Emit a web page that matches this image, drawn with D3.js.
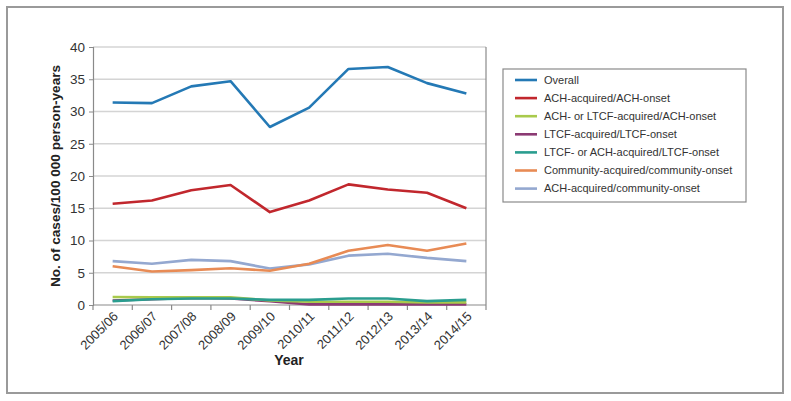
<!DOCTYPE html>
<html><head><meta charset="utf-8">
<script src="https://cdn.jsdelivr.net/npm/d3@7"></script>
<style>body{margin:0;background:#fff}</style>
</head><body><svg id="c" width="791" height="401" font-family="Liberation Sans, Arial, sans-serif"></svg>
<script>
const years = ["2005/06","2006/07","2007/08","2008/09","2009/10","2010/11","2011/12","2012/13","2013/14","2014/15"];
const seriesNames = ["Overall","ACH-acquired/ACH-onset","ACH- or LTCF-acquired/ACH-onset","LTCF-acquired/LTCF-onset","LTCF- or ACH-acquired/LTCF-onset","Community-acquired/community-onset","ACH-acquired/community-onset"];
const seriesColors = ["#2479b5","#c1272d","#a9ca4c","#8b3a73","#2a9d8f","#e88b55","#94a8d0"];
const overall = [31.4,31.3,33.9,34.7,27.6,30.6,36.6,36.9,34.4,32.8];
const achAch = [15.7,16.2,17.8,18.6,14.4,16.2,18.7,17.9,17.4,15.0];
const achLtcfAch = [1.25,1.2,1.2,1.2,0.7,0.5,0.5,0.5,0.4,0.4];
const ltcfLtcf = [0.7,0.9,1.1,1.0,0.6,0.1,0.1,0.1,0.1,0.1];
const ltcfAchLtcf = [0.6,0.9,1.0,1.0,0.8,0.8,1.0,1.0,0.6,0.8];
const community = [6.0,5.2,5.4,5.7,5.3,6.4,8.4,9.3,8.4,9.55];
const achCommunity = [6.8,6.4,7.0,6.8,5.65,6.3,7.65,7.95,7.3,6.8];
const yTicks = [0,5,10,15,20,25,30,35,40];

const data = [overall,achAch,achLtcfAch,ltcfLtcf,ltcfAchLtcf,community,achCommunity];
const drawOrder = [6,5,3,2,4,1,0];
const FF = "Liberation Sans, Arial, sans-serif";

const svg = d3.select("#c");
svg.append("rect").attr("x",7).attr("y",7).attr("width",776).attr("height",386)
  .attr("fill","none").attr("stroke","#9a9a9a").attr("stroke-width",2);

const L=93,R=486,T=47,B=305;
const x = d3.scaleBand().domain(years).range([L,R]);
const y = d3.scaleLinear().domain([0,40]).range([B,T]);

const g = svg.append("g");
g.selectAll("line.grid").data(yTicks.filter(d=>d>0)).join("line")
  .attr("x1",L).attr("x2",R).attr("y1",d=>y(d)).attr("y2",d=>y(d))
  .attr("stroke","#d4d4d4").attr("stroke-width",1.5);
g.append("line").attr("x1",R).attr("x2",R).attr("y1",T).attr("y2",B).attr("stroke","#8a8a8a").attr("stroke-width",1.2);

const yAxis = g.append("g").attr("transform",`translate(${L},0)`)
  .call(d3.axisLeft(y).tickValues(yTicks).tickSize(4).tickPadding(4));
yAxis.attr("font-family",FF);
yAxis.select(".domain").attr("stroke","#8a8a8a").attr("stroke-width",1.2);
yAxis.selectAll(".tick line").attr("stroke","#8a8a8a");
yAxis.selectAll("text").attr("font-size",13.5).attr("fill","#333");

const bounds = years.map(d=>x(d)).concat([R]);
g.selectAll("line.xt").data(bounds).join("line")
  .attr("x1",d=>d).attr("x2",d=>d).attr("y1",B).attr("y2",B+5).attr("stroke","#8a8a8a").attr("stroke-width",1.2);
g.append("line").attr("x1",L).attr("x2",R).attr("y1",B).attr("y2",B).attr("stroke","#8a8a8a").attr("stroke-width",1.2);

g.selectAll("text.xl").data(years).join("text")
  .attr("transform",d=>`translate(${x(d)+x.bandwidth()/2+3},${B+9}) rotate(-45)`)
  .attr("text-anchor","end").attr("dy","0.35em").attr("font-size",13).attr("fill","#333").text(d=>d);

const line = d3.line().x((d,i)=>x(years[i])+x.bandwidth()/2).y(d=>y(d));
drawOrder.forEach(k=>{
  g.append("path").datum(data[k]).attr("d",line).attr("fill","none")
    .attr("stroke",seriesColors[k]).attr("stroke-width",2.6).attr("stroke-linejoin","round");
});

svg.append("text").attr("transform","translate(60,176) rotate(-90)").attr("text-anchor","middle")
  .attr("font-size",13.6).attr("font-weight","bold").attr("fill","#222").text("No. of cases/100 000 person-years");
svg.append("text").attr("x",289).attr("y",365).attr("text-anchor","middle")
  .attr("font-size",14).attr("font-weight","bold").attr("fill","#222").text("Year");

const lg = svg.append("g");
lg.append("rect").attr("x",503).attr("y",69).attr("width",243).attr("height",133)
  .attr("fill","#fff").attr("stroke","#8a8a8a").attr("stroke-width",1.2);
seriesNames.forEach((n,i)=>{
  const yy = 80 + i*18.1;
  lg.append("line").attr("x1",515).attr("x2",537).attr("y1",yy).attr("y2",yy)
    .attr("stroke",seriesColors[i]).attr("stroke-width",2.6);
  lg.append("text").attr("x",544).attr("y",yy).attr("dy","0.35em").attr("font-size",11).attr("fill","#333").text(n);
});
</script></body></html>
